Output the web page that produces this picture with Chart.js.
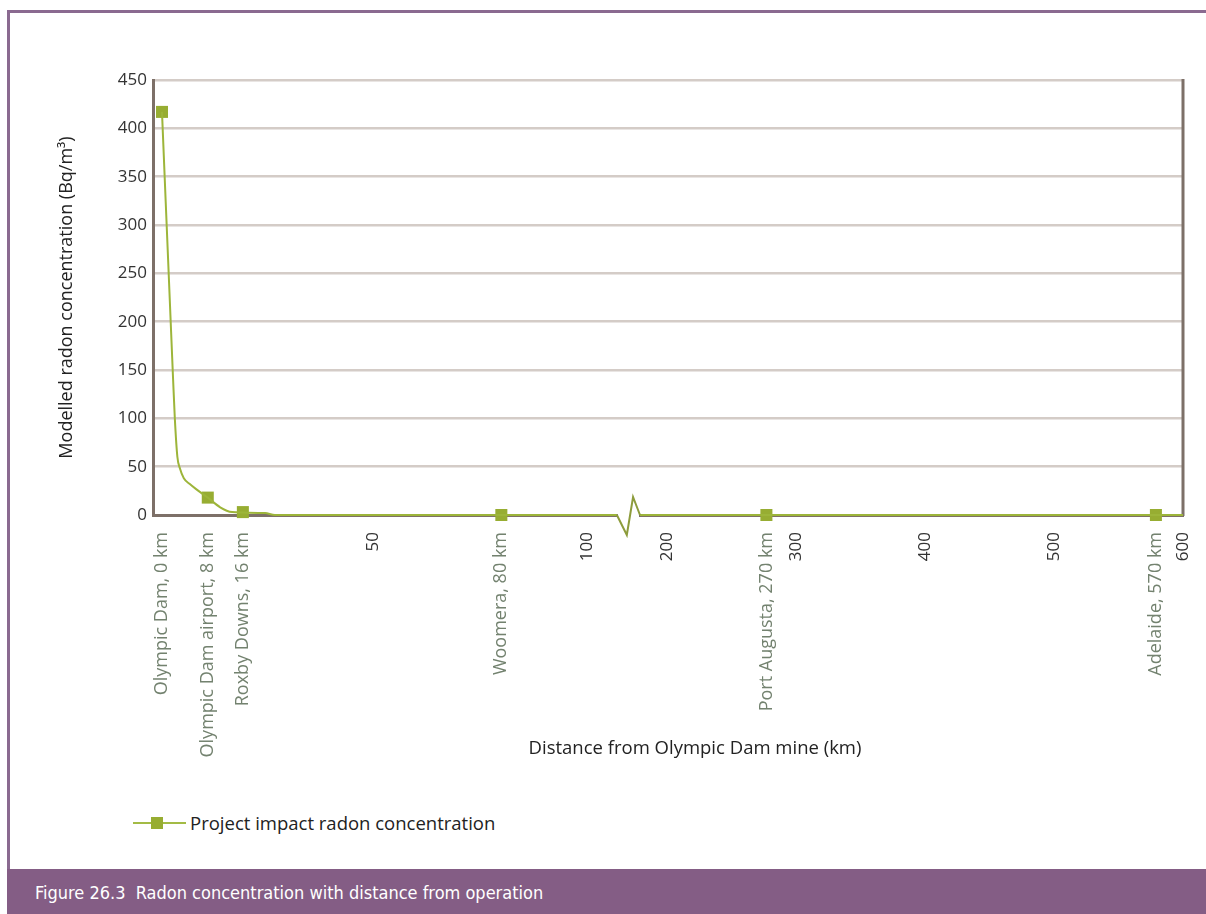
<!DOCTYPE html>
<html>
<head>
<meta charset="utf-8">
<title>Radon concentration with distance from operation</title>
<script src="https://cdn.jsdelivr.net/npm/chart.js@4.4.1/dist/chart.umd.min.js"></script>
<style>
  body { margin: 0; width: 1206px; height: 914px; background: #fff; position: relative; overflow: hidden; font-family: "Open Sans", sans-serif; }
  #frame { position: absolute; left: 7px; top: 10px; width: 1220px; height: 859px; border-top: 3px solid #8a6a90; border-left: 3px solid #8a6a90; box-sizing: border-box; }
  #wrap { position: absolute; left: 0; top: 0; width: 1206px; height: 760px; }
  #xtitle { position: absolute; left: 495px; top: 734px; width: 400px; text-align: center; font-size: 18.5px; line-height: 26px; color: #222; white-space: nowrap; }
  #legend { position: absolute; left: 133px; top: 811px; height: 24px; line-height: 24px; font-size: 18.5px; color: #222; }
  #legend .sw { position: absolute; left: 0; top: 11px; width: 53px; height: 2px; background: #a3bb45; }
  #legend .sw i { position: absolute; left: 18px; top: -5px; width: 12px; height: 12px; background: #97ad32; }
  #legend span.txt { position: absolute; left: 57px; white-space: nowrap; }
  #footer { position: absolute; left: 7px; top: 869px; width: 1199px; height: 45px; background: #845d85; color: #fff;
            font-family: "DejaVu Sans Condensed", "Liberation Sans Narrow", sans-serif; font-size: 18px; line-height: 47px; padding-left: 28px; box-sizing: border-box; white-space: nowrap; }
</style>
</head>
<body>
<div id="frame"></div>
<div id="wrap"><canvas id="radonChart"></canvas></div>
<div id="xtitle">Distance from Olympic Dam mine (km)</div>
<div id="legend"><div class="sw"><i></i></div><span class="txt">Project impact radon concentration</span></div>
<div id="footer">Figure 26.3&nbsp; Radon concentration with distance from operation</div>
<script>
// locations, as placed along the chart's distance axis
const siteNames = ['Olympic Dam, 0 km', 'Olympic Dam airport, 8 km', 'Roxby Downs, 16 km', 'Woomera, 80 km', 'Port Augusta, 270 km', 'Adelaide, 570 km'];
const siteKm = [0.7, 11.4, 19.6, 80, 277, 579];
const siteRadon = [417, 18, 3, 0, 0, 0];

// modelled curve (null = axis break)
const curveKm = [0.7, 3.3, 3.7, 4.3, 4.9, 5.8, 7.2, 8.6, 11.4, 14.3, 17.1, 19.6, 24.8, 27.1, 80, 107, null, 179, 277, 579, 600];
const curveRadon = [417, 140, 100, 60, 48, 38, 32, 27, 18, 8, 3, 2.5, 2, 0, 0, 0, null, 0, 0, 0, 0];

const distanceTicks = [50, 100, 200, 300, 400, 500, 600];

// broken axis: 0-107 km at full scale, then 179-600 km compressed
const BREAK_FROM = 107, BREAK_TO = 179, BREAK_GAP = 5.4, FAR_SCALE = 0.3014;
function axisPos(km) {
    if (km <= BREAK_FROM) return km;
    return BREAK_FROM + BREAK_GAP + (km - BREAK_TO) * FAR_SCALE;
}

const lineColor = '#9db53a';
const axisColor = '#7d7068';

const curveData = curveKm.map((k, i) => k === null ? { x: null, y: null } : { x: axisPos(k), y: curveRadon[i] });
const siteData = siteKm.map((k, i) => ({ x: axisPos(k), y: siteRadon[i] }));

const axisExtras = {
    id: 'axisExtras',
    beforeDatasetsDraw(chart) {
        const { ctx, chartArea } = chart;
        ctx.save();
        ctx.strokeStyle = axisColor;
        ctx.lineWidth = 3;
        ctx.beginPath();
        ctx.moveTo(chartArea.right, chartArea.top - 1);
        ctx.lineTo(chartArea.right, chartArea.bottom + 1);
        ctx.stroke();
        ctx.restore();
    },
    afterDatasetsDraw(chart) {
        const { ctx, scales: { x, y } } = chart;
        const x0 = x.getPixelForValue(axisPos(BREAK_FROM));
        const x1 = x.getPixelForValue(axisPos(BREAK_TO));
        const y0 = y.getPixelForValue(0);
        ctx.save();
        ctx.fillStyle = '#fff';
        ctx.fillRect(x0 + 1, y0 - 3, x1 - x0 - 2, 6);
        ctx.strokeStyle = '#8d9c3c';
        ctx.lineWidth = 2;
        ctx.beginPath();
        ctx.moveTo(x0, y0);
        ctx.lineTo(x0 + (x1 - x0) * 0.43, y0 + 20);
        ctx.lineTo(x0 + (x1 - x0) * 0.7, y0 - 18);
        ctx.lineTo(x1, y0);
        ctx.stroke();
        ctx.restore();
    }
};

new Chart(document.getElementById('radonChart').getContext('2d'), {
    type: 'line',
    data: {
        datasets: [{
            label: 'curve',
            data: curveData,
            borderColor: lineColor,
            borderWidth: 2,
            pointRadius: 0,
            cubicInterpolationMode: 'monotone',
            spanGaps: false,
            clip: false
        }, {
            label: 'Project impact radon concentration',
            data: siteData,
            showLine: false,
            pointStyle: 'rect',
            pointRadius: 8.5,
            pointBackgroundColor: '#97ad32',
            pointBorderWidth: 0,
            clip: false
        }]
    },
    plugins: [axisExtras],
    options: {
        responsive: true,
        maintainAspectRatio: false,
        animation: false,
        layout: { padding: { left: 53, top: 80, right: 23, bottom: 1 } },
        plugins: {
            legend: { display: false },
            tooltip: { enabled: false }
        },
        scales: {
            x: {
                type: 'linear',
                min: -1.4,
                max: axisPos(600),
                afterFit(scale) {
                    scale.height = 244;
                    scale.paddingLeft = 0;
                    scale.paddingRight = 0;
                },
                afterBuildTicks(scale) {
                    const t = distanceTicks.map(k => ({ value: axisPos(k), label: String(k) }))
                        .concat(siteKm.map((k, i) => ({ value: axisPos(k), label: siteNames[i], site: true })));
                    t.sort((a, b) => a.value - b.value);
                    scale.ticks = t;
                },
                grid: { display: false },
                border: { color: axisColor, width: 3 },
                ticks: {
                    autoSkip: false,
                    minRotation: 90,
                    maxRotation: 90,
                    padding: 9,
                    font: ctx => ({ family: 'Open Sans', size: (ctx.tick && ctx.tick.site) ? 18 : 17 }),
                    color: ctx => (ctx.tick && ctx.tick.site) ? '#73826f' : '#333',
                    callback: (value, index, ticks) => ticks[index].label
                },
                title: { display: false }
            },
            y: {
                min: 0,
                max: 450,
                afterFit(scale) { scale.width = 100; },
                grid: { color: '#d4ccc7', lineWidth: 2.5, drawTicks: false },
                border: { color: axisColor, width: 3 },
                ticks: {
                    stepSize: 50,
                    padding: 6,
                    font: { family: 'Open Sans', size: 17 },
                    color: '#333'
                },
                title: {
                    display: true,
                    text: 'Modelled radon concentration (Bq/m³)',
                    font: { family: 'Open Sans', size: 18 },
                    color: '#222',
                    padding: { top: 3, bottom: 4 }
                }
            }
        }
    }
});
</script>
</body>
</html>
